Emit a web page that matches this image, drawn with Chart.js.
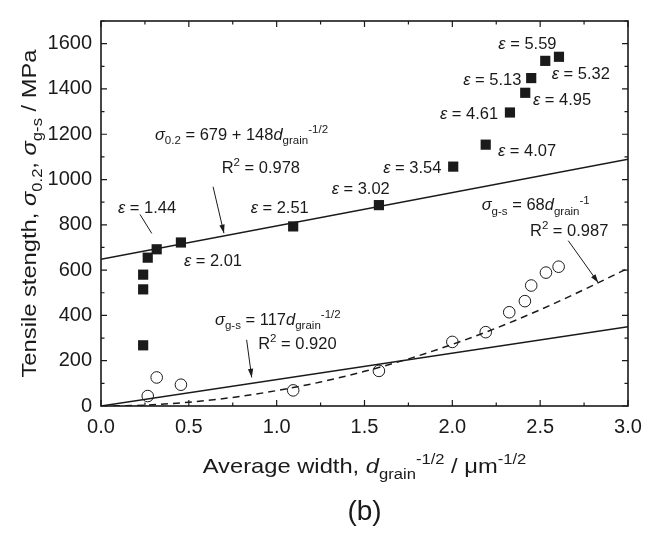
<!DOCTYPE html>
<html>
<head>
<meta charset="utf-8" />
<title>Tensile strength vs grain width</title>
<script src="https://cdn.jsdelivr.net/npm/chart.js@4.4.0/dist/chart.umd.min.js"></script>
<style>
    body { margin: 0; background: #fff; }
    .wrap { width: 657px; height: 533px; position: relative; }
</style>
</head>
<body>
<div class="wrap"><canvas id="chart"></canvas></div>
<script>
    // values
    const squareX = [0.24, 0.24, 0.24, 0.266, 0.317, 0.455, 1.094, 1.582, 2.005, 2.19, 2.328, 2.415, 2.449, 2.529, 2.607];
    const squareY = [268, 515, 580, 655, 692, 722, 793, 887, 1057, 1154, 1296, 1383, 1448, 1524, 1542];

    const circleX = [0.266, 0.317, 0.455, 1.094, 1.582, 2.0, 2.19, 2.324, 2.413, 2.449, 2.533, 2.605];
    const circleY = [44, 126, 94, 69, 155, 283, 326, 414, 463, 532, 589, 615];

    const fitX = [0, 3];
    const fitHighY = [648, 1090];
    const fitLowY = [0, 350];

    const dashX = [0, 0.25, 0.5, 0.75, 1.0, 1.25, 1.5, 1.75, 2.0, 2.25, 2.5, 2.75, 3.0];
    const dashY = [0, 4, 17, 38, 68, 106, 153, 208, 272, 344, 425, 514, 608];

    const xTicks = [0, 0.5, 1.0, 1.5, 2.0, 2.5, 3.0];
    const xMinor = [0.25, 0.75, 1.25, 1.75, 2.25, 2.75];
    const yTicks = [0, 200, 400, 600, 800, 1000, 1200, 1400, 1600];
    const yMinor = [100, 300, 500, 700, 900, 1100, 1300, 1500, 1700];

    const pts = (xs, ys) => xs.map((x, i) => ({ x: x, y: ys[i] }));

    // text notes: anchor is left edge / vertical middle, in data units
    const notes = [
        { x: 0.307, y: 1200, parts: [['σ', 'i'], ['0.2', 's'], [' = 679 + 148'], ['d', 'i'], ['grain', 's'], ['-1/2', 'p']] },
        { x: 0.687, y: 1054, parts: [['R'], ['2', 'p'], [' = 0.978']] },
        { x: 0.097, y: 876, parts: [['ε', 'i'], [' = 1.44']] },
        { x: 0.852, y: 876, parts: [['ε', 'i'], [' = 2.51']] },
        { x: 0.472, y: 643, parts: [['ε', 'i'], [' = 2.01']] },
        { x: 1.313, y: 963, parts: [['ε', 'i'], [' = 3.02']] },
        { x: 1.607, y: 1054, parts: [['ε', 'i'], [' = 3.54']] },
        { x: 2.26, y: 1130, parts: [['ε', 'i'], [' = 4.07']] },
        { x: 1.93, y: 1291, parts: [['ε', 'i'], [' = 4.61']] },
        { x: 2.459, y: 1356, parts: [['ε', 'i'], [' = 4.95']] },
        { x: 2.062, y: 1445, parts: [['ε', 'i'], [' = 5.13']] },
        { x: 2.566, y: 1468, parts: [['ε', 'i'], [' = 5.32']] },
        { x: 2.262, y: 1601, parts: [['ε', 'i'], [' = 5.59']] },
        { x: 2.167, y: 889, parts: [['σ', 'i'], ['g-s', 's'], [' = 68'], ['d', 'i'], ['grain', 's'], ['-1', 'p']] },
        { x: 2.442, y: 777, parts: [['R'], ['2', 'p'], [' = 0.987']] },
        { x: 0.649, y: 385, parts: [['σ', 'i'], ['g-s', 's'], [' = 117'], ['d', 'i'], ['grain', 's'], ['-1/2', 'p']] },
        { x: 0.895, y: 277, parts: [['R'], ['2', 'p'], [' = 0.920']] }
    ];

    const arrows = [
        { from: [0.638, 968], to: [0.70, 763], head: true },
        { from: [0.222, 846], to: [0.289, 762], head: false },
        { from: [0.829, 292], to: [0.858, 126], head: true },
        { from: [2.66, 730], to: [2.831, 544], head: true }
    ];

    const FONT = '"Liberation Sans", Arial, sans-serif';
    const INK = '#1a1a1a';

    // draws text made of normal / italic / sub / sup pieces
    function drawRich(ctx, parts, x, y, size, opt) {
        opt = opt || {};
        const sx = opt.sx || 1;
        const pieceFont = (k) => {
            const s = (k === 's' || k === 'p') ? size * 0.7 : size;
            return (k === 'i' ? 'italic ' : '') + s + 'px ' + FONT;
        };
        let total = 0;
        parts.forEach(p => { ctx.font = pieceFont(p[1]); total += ctx.measureText(p[0]).width; });
        ctx.save();
        ctx.translate(x, y);
        if (opt.rotate) ctx.rotate(opt.rotate);
        ctx.scale(sx, 1);
        ctx.fillStyle = INK;
        ctx.textBaseline = 'alphabetic';
        ctx.textAlign = 'left';
        let cx = opt.center ? -total / 2 : 0;
        parts.forEach(p => {
            const k = p[1];
            ctx.font = pieceFont(k);
            let dy = 0;
            if (k === 's') dy = size * 0.28;
            if (k === 'p') dy = -size * 0.42;
            ctx.fillText(p[0], cx, dy);
            cx += ctx.measureText(p[0]).width;
        });
        ctx.restore();
    }

    const decor = {
        id: 'decor',
        afterDraw(chart) {
            const ctx = chart.ctx;
            const a = chart.chartArea;
            const xs = chart.scales.x, ys = chart.scales.y;
            ctx.save();
            ctx.strokeStyle = INK;
            ctx.lineWidth = 1.6;
            ctx.strokeRect(a.left, a.top, a.right - a.left, a.bottom - a.top);

            // inward ticks on all four sides
            ctx.lineWidth = 1.2;
            const tick = (px, len, horiz) => {
                ctx.beginPath();
                if (horiz) {
                    ctx.moveTo(px, a.bottom); ctx.lineTo(px, a.bottom - len);
                    ctx.moveTo(px, a.top); ctx.lineTo(px, a.top + len);
                } else {
                    ctx.moveTo(a.left, px); ctx.lineTo(a.left + len, px);
                    ctx.moveTo(a.right, px); ctx.lineTo(a.right - len, px);
                }
                ctx.stroke();
            };
            xTicks.forEach(v => tick(xs.getPixelForValue(v), 6, true));
            xMinor.forEach(v => tick(xs.getPixelForValue(v), 3.5, true));
            yTicks.forEach(v => tick(ys.getPixelForValue(v), 6, false));
            yMinor.forEach(v => tick(ys.getPixelForValue(v), 3.5, false));

            // leader lines and arrows
            ctx.lineWidth = 1;
            arrows.forEach(ar => {
                const x1 = xs.getPixelForValue(ar.from[0]), y1 = ys.getPixelForValue(ar.from[1]);
                const x2 = xs.getPixelForValue(ar.to[0]), y2 = ys.getPixelForValue(ar.to[1]);
                ctx.beginPath(); ctx.moveTo(x1, y1); ctx.lineTo(x2, y2); ctx.stroke();
                if (ar.head) {
                    const ang = Math.atan2(y2 - y1, x2 - x1);
                    ctx.beginPath();
                    ctx.moveTo(x2, y2);
                    ctx.lineTo(x2 - 9 * Math.cos(ang - 0.3), y2 - 9 * Math.sin(ang - 0.3));
                    ctx.lineTo(x2 - 9 * Math.cos(ang + 0.3), y2 - 9 * Math.sin(ang + 0.3));
                    ctx.closePath();
                    ctx.fillStyle = INK;
                    ctx.fill();
                }
            });

            // notes
            const ns = 16;
            notes.forEach(n => {
                drawRich(ctx, n.parts, xs.getPixelForValue(n.x), ys.getPixelForValue(n.y) + ns * 0.36, ns, { sx: 1.03 });
            });

            // axis titles
            drawRich(ctx, [['Tensile stength, '], ['σ', 'i'], ['0.2', 's'], [', '], ['σ', 'i'], ['g-s', 's'], [' / MPa']],
                36, (a.top + a.bottom) / 2, 21, { rotate: -Math.PI / 2, sx: 1.13, center: true });
            drawRich(ctx, [['Average width, '], ['d', 'i'], ['grain', 's'], ['-1/2', 'p'], [' / μm'], ['-1/2', 'p']],
                (a.left + a.right) / 2, 473, 21, { sx: 1.13, center: true });
            drawRich(ctx, [['(b)']], (a.left + a.right) / 2, 520, 28, { center: true });
            ctx.restore();
        }
    };

    new Chart(document.getElementById('chart'), {
        type: 'scatter',
        data: {
            datasets: [
                {
                    data: pts(squareX, squareY),
                    pointStyle: 'rect',
                    pointRadius: 7.2,
                    backgroundColor: INK,
                    borderColor: INK,
                    borderWidth: 0
                },
                {
                    data: pts(circleX, circleY),
                    pointStyle: 'circle',
                    pointRadius: 5.8,
                    backgroundColor: 'rgba(255,255,255,0)',
                    borderColor: INK,
                    borderWidth: 1
                },
                {
                    data: pts(fitX, fitHighY),
                    showLine: true,
                    pointRadius: 0,
                    borderColor: INK,
                    borderWidth: 1.5
                },
                {
                    data: pts(fitX, fitLowY),
                    showLine: true,
                    pointRadius: 0,
                    borderColor: INK,
                    borderWidth: 1.5
                },
                {
                    data: pts(dashX, dashY),
                    showLine: true,
                    pointRadius: 0,
                    borderColor: INK,
                    borderWidth: 1.5,
                    borderDash: [7, 5],
                    cubicInterpolationMode: 'monotone'
                }
            ]
        },
        options: {
            responsive: true,
            maintainAspectRatio: false,
            animation: false,
            layout: { padding: { left: 0, top: 12, right: 29, bottom: 0 } },
            plugins: { legend: { display: false }, tooltip: { enabled: false } },
            scales: {
                x: {
                    type: 'linear',
                    min: 0,
                    max: 3,
                    grid: { display: false, drawTicks: false },
                    border: { display: false },
                    afterBuildTicks: s => { s.ticks = xTicks.map(v => ({ value: v })); },
                    afterFit: s => { s.height = 127; },
                    ticks: {
                        padding: 9,
                        color: INK,
                        font: { family: FONT, size: 20 },
                        callback: v => v.toFixed(1)
                    }
                },
                y: {
                    type: 'linear',
                    min: 0,
                    max: 1700,
                    grid: { display: false, drawTicks: false },
                    border: { display: false },
                    afterBuildTicks: s => { s.ticks = yTicks.map(v => ({ value: v })); },
                    afterFit: s => { s.width = 101; },
                    ticks: {
                        padding: 9,
                        color: INK,
                        font: { family: FONT, size: 20 },
                        callback: v => String(v)
                    }
                }
            }
        },
        plugins: [decor]
    });
</script>
</body>
</html>
